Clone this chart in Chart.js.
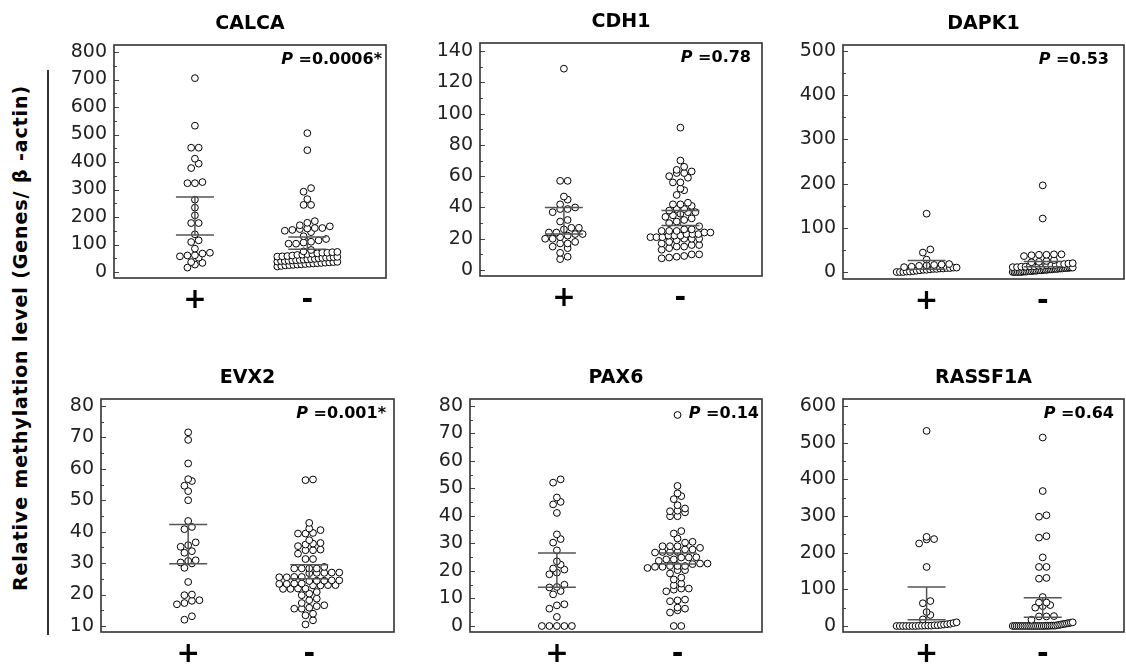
<!DOCTYPE html>
<html><head><meta charset="utf-8">
<script src="https://cdn.jsdelivr.net/npm/chart.js@4"></script>
<style>
html,body{margin:0;padding:0;background:#fff;}
body{width:1126px;height:666px;position:relative;overflow:hidden;font-family:"DejaVu Sans",sans-serif;}
.panel{position:absolute;}
#ytitle{position:absolute;left:20px;top:338px;transform:translate(-50%,-50%) rotate(-90deg);white-space:nowrap;font:bold 19px "DejaVu Sans";letter-spacing:0.9px;color:#000;}
#yline{position:absolute;left:47px;top:70px;width:1.5px;height:565px;background:#333;}
</style></head><body>
<div id="ytitle">Relative methylation level (Genes/ β -actin)</div>
<div id="yline"></div>
<script>
// ---------- data ----------
const categories = ['+', '-'];
const genes = ['CALCA', 'CDH1', 'DAPK1', 'EVX2', 'PAX6', 'RASSF1A'];
const pValues = ['0.0006*', '0.78', '0.53', '0.001*', '0.14', '0.64'];

const calcaTicks = [0, 100, 200, 300, 400, 500, 600, 700, 800];
const cdh1Ticks = [0, 20, 40, 60, 80, 100, 120, 140];
const dapk1Ticks = [0, 100, 200, 300, 400, 500];
const evx2Ticks = [10, 20, 30, 40, 50, 60, 70, 80];
const pax6Ticks = [0, 10, 20, 30, 40, 50, 60, 70, 80];
const rassf1aTicks = [0, 100, 200, 300, 400, 500, 600];

const calcaPos = [705, 532, 452, 452, 412, 394, 378, 323, 323, 327, 263, 234, 206, 178, 178, 137, 115, 109, 85, 70, 67, 61, 60, 57, 52, 36, 33, 27, 16];
const calcaNeg = [505, 443, 305, 292, 265, 244, 244, 185, 179, 170, 166, 160, 160, 158, 156, 153, 150, 145, 130, 120, 115, 110, 107, 103, 103, 80, 75, 73, 72, 70, 70, 68, 66, 65, 63, 62, 60, 58, 57, 56, 55, 54, 53, 52, 51, 50, 48, 47, 46, 45, 44, 43, 42, 41, 40, 40, 38, 37, 36, 35, 34, 33, 32, 31, 30, 29, 28, 27, 26, 25, 24, 22, 20];
const cdh1Pos = [128.7, 57, 57, 47, 45, 42, 40, 39, 39, 37, 32, 31, 27, 27, 26, 24, 24, 23, 23, 22, 21, 20, 20, 18, 17, 17, 15, 14, 11, 8.5, 7];
const cdh1Neg = [91, 70, 66, 64, 63, 62, 62, 60, 59, 56, 56, 52, 51, 48, 43, 42, 42, 41, 39, 39, 38, 37, 37, 36, 35, 34, 33, 32, 31, 30, 28, 26, 26, 25, 25, 25, 24, 24, 23, 23, 23, 22, 22, 22, 21, 21, 21, 20, 20, 20, 19, 18, 17, 16, 16, 15, 15, 14, 13, 10, 10, 9, 8.5, 8, 7.5];
const dapk1Pos = [132, 51, 44, 28, 18, 17, 16, 15, 14, 12, 11, 10, 10, 9, 9, 8, 8, 7, 7, 6, 5, 5, 4, 3, 2, 1, 1, 0, 0, 0];
const dapk1Neg = [196, 121, 40, 40, 39, 39, 38, 36, 27, 25, 23, 22, 20, 19, 18, 17, 16, 15, 15, 14, 14, 13, 13, 12, 12, 11, 11, 10, 10, 10, 9, 9, 9, 8, 8, 8, 7, 7, 7, 6, 6, 6, 5, 5, 5, 4, 4, 4, 3, 3, 3, 2, 2, 2, 1, 1, 1, 0, 0, 0, 0, 0, 0];
const evx2Pos = [71.6, 69.2, 61.7, 56.7, 56.1, 54.6, 52.9, 50, 43.4, 41.5, 40.8, 36.6, 35.7, 35.2, 33.8, 33.3, 30.9, 30.7, 30.2, 29.9, 28.5, 24, 20, 19.8, 18.2, 18, 17.3, 16.9, 13.1, 12];
const evx2Neg = [56.6, 56.4, 42.8, 41, 40.5, 39.6, 39.4, 39.4, 37.3, 36.4, 36.2, 35.9, 35.4, 34.3, 34.1, 34.1, 33, 31.3, 31.3, 28.8, 28.3, 28.3, 28.3, 28.3, 27, 27, 26.9, 26.9, 26.8, 25.6, 25.6, 25.5, 25.5, 24.5, 24.5, 24.4, 24.4, 24.3, 23.5, 23.5, 23.4, 23.4, 23, 23, 22.9, 22.9, 21.9, 21.9, 21.8, 21.8, 20.8, 20.3, 19.8, 18.7, 18.2, 17.3, 16.6, 16.3, 15.8, 15.5, 15.5, 13.9, 13.4, 11.8, 10.5];
const pax6Pos = [53.3, 52.1, 46.7, 45.1, 44.2, 41.1, 33.3, 31.6, 30.3, 27.5, 23.5, 22.3, 20.9, 20.5, 19.4, 18.8, 15, 14.2, 14, 12.7, 11.5, 7.9, 7.5, 6.3, 3.3, 0, 0, 0, 0, 0];
const pax6Neg = [76.7, 50.9, 48.2, 47.2, 46.1, 43.9, 42.7, 41.9, 41.7, 41.3, 39.9, 39.9, 34.5, 33.6, 31.8, 30.6, 30.3, 29, 29, 29, 28.4, 27.8, 27.8, 26.9, 26.9, 26.9, 26.7, 25, 24.9, 24.9, 24.2, 24.2, 23.7, 22.7, 22.7, 22.5, 21.8, 21.8, 21.8, 21.5, 21.5, 21.1, 20.3, 20.3, 19.1, 17.6, 16.9, 15.4, 14.8, 13.6, 13.6, 13.2, 12.6, 9.6, 9.3, 9, 6.7, 6.3, 5.7, 4.9, 0, 0];
const rassf1aPos = [532, 243, 237, 236, 225, 161, 68, 62, 38, 30, 18, 10, 8, 6, 5, 4, 3, 2, 2, 1, 1, 1, 0.5, 0.5, 0, 0, 0, 0, 0, 0, 0];
const rassf1aNeg = [514, 368, 302, 298, 245, 241, 187, 161, 161, 131, 129, 79, 64, 64, 57, 54, 50, 27, 26, 26, 17, 10, 9, 8, 7, 6, 5, 4, 3, 2, 1, 1, 1, 0.5, 0.5, 0.5, 0, 0, 0, 0, 0, 0, 0, 0, 0, 0, 0, 0, 0, 0, 0, 0, 0];

// error bar (upper, lower) per group
const calcaBarPos = [273, 135], calcaBarNeg = [127, 83];
const cdh1BarPos = [40, 23], cdh1BarNeg = [38, 28.5];
const dapk1BarPos = [26, 6], dapk1BarNeg = [24, 12];
const evx2BarPos = [42.3, 29.8], evx2BarNeg = [29.5, 25];
const pax6BarPos = [26.5, 14.1], pax6BarNeg = [26.5, 22.5];
const rassf1aBarPos = [106.6, 17], rassf1aBarNeg = [77, 24];

const groupValues = [[calcaPos, calcaNeg], [cdh1Pos, cdh1Neg], [dapk1Pos, dapk1Neg], [evx2Pos, evx2Neg], [pax6Pos, pax6Neg], [rassf1aPos, rassf1aNeg]];
const groupBars = [[calcaBarPos, calcaBarNeg], [cdh1BarPos, cdh1BarNeg], [dapk1BarPos, dapk1BarNeg], [evx2BarPos, evx2BarNeg], [pax6BarPos, pax6BarNeg], [rassf1aBarPos, rassf1aBarNeg]];
const groupTicks = [calcaTicks, cdh1Ticks, dapk1Ticks, evx2Ticks, pax6Ticks, rassf1aTicks];

// ---------- layout / style ----------
const layout = [
  {left: 114, right: 387, top: 45, bottom: 278, yMin: -21.8, yMax: 825.5, pInset: 4},
  {left: 480, right: 763, top: 43, bottom: 276, yMin: -3.8, yMax: 145.1, pInset: 11},
  {left: 843, right: 1125, top: 45, bottom: 279, yMin: -15.8, yMax: 513.6, pInset: 15},
  {left: 101, right: 395, top: 399, bottom: 632, yMin: 8.09, yMax: 82.2, pInset: 8},
  {left: 470, right: 763, top: 399, bottom: 632, yMin: -2.18, yMax: 82.5, pInset: 3},
  {left: 843, right: 1125, top: 399, bottom: 632, yMin: -16.4, yMax: 619, pInset: 10}
];
const PADL = 60, PADB = 40, PADT = 45, PADR = 4;
const DOT_SPACING = 7.5, ROW_H = 4.8, MAX_W = 60, BAR_HALF = 19;

function makePlugin(cfg) {
  return {
    id: 'panelDeco',
    afterDatasetsDraw(chart) {
      const ctx = chart.ctx, ys = chart.scales.y, xs = chart.scales.x;
      ctx.save();
      ctx.strokeStyle = '#555'; ctx.lineWidth = 1.5;
      cfg.bars.forEach((b, k) => {
        const cx = xs.getPixelForValue(k + 1);
        const yt = ys.getPixelForValue(b[0]), yb = ys.getPixelForValue(b[1]);
        ctx.beginPath();
        ctx.moveTo(cx - BAR_HALF, yt); ctx.lineTo(cx + BAR_HALF, yt);
        ctx.moveTo(cx - BAR_HALF, yb); ctx.lineTo(cx + BAR_HALF, yb);
        ctx.moveTo(cx, yt); ctx.lineTo(cx, yb);
        ctx.stroke();
      });
      ctx.restore();
    },
    afterDraw(chart) {
      const ctx = chart.ctx, a = chart.chartArea, ys = chart.scales.y;
      ctx.save();
      ctx.strokeStyle = '#444'; ctx.lineWidth = 1;
      const t = cfg.ticks;
      ctx.beginPath();
      for (let i = 0; i < t.length; i++) {
        const y = Math.round(ys.getPixelForValue(t[i])) + 0.5;
        ctx.moveTo(a.left, y); ctx.lineTo(a.left + 5, y);
        if (i < t.length - 1) {
          const ym = Math.round(ys.getPixelForValue((t[i] + t[i + 1]) / 2)) + 0.5;
          ctx.moveTo(a.left, ym); ctx.lineTo(a.left + 3, ym);
        }
      }
      ctx.stroke();
      ctx.strokeStyle = '#333'; ctx.lineWidth = 1.6;
      ctx.strokeRect(a.left, a.top, a.right - a.left, a.bottom - a.top);
      ctx.fillStyle = '#000';
      ctx.font = 'bold 19px "DejaVu Sans"';
      ctx.textAlign = 'center'; ctx.textBaseline = 'middle';
      ctx.fillText(cfg.title, (a.left + a.right) / 2, a.top - 21);
      ctx.textBaseline = 'alphabetic'; ctx.textAlign = 'left';
      const f1 = 'italic bold 16px "DejaVu Sans"', f2 = 'bold 16px "DejaVu Sans"';
      const rest = ' =' + cfg.p;
      ctx.font = f1; const w1 = ctx.measureText('P').width;
      ctx.font = f2; const w2 = ctx.measureText(rest).width;
      const x0 = a.right - cfg.pInset - w1 - w2, yb = a.top + 19;
      ctx.font = f1; ctx.fillText('P', x0, yb);
      ctx.font = f2; ctx.fillText(rest, x0 + w1, yb);
      ctx.restore();
    }
  };
}

function swarm(chart, values) {
  const xs = chart.scales.x, ys = chart.scales.y;
  chart.data.datasets.forEach((ds, k) => {
    const vals = values[k];
    const cx = xs.getPixelForValue(k + 1);
    const sorted = vals.slice().sort((p, q) => p - q);
    const pts = [];
    let row = [], start = null;
    const flush = () => {
      const n = row.length;
      const s = n > 1 ? Math.min(DOT_SPACING, MAX_W / (n - 1)) : 0;
      row.forEach((v, i) => {
        const px = cx + (i - (n - 1) / 2) * s;
        pts.push({x: xs.getValueForPixel(px), y: v});
      });
      row = [];
    };
    sorted.forEach(v => {
      const p = ys.getPixelForValue(v);
      if (start === null || start - p > ROW_H) { if (row.length) flush(); start = p; }
      row.push(v);
    });
    if (row.length) flush();
    ds.data = pts;
  });
  chart.update('none');
}

genes.forEach((g, idx) => {
  const L = layout[idx];
  const w = L.right - L.left + PADL + PADR, h = L.bottom - L.top + PADT + PADB;
  const div = document.createElement('div');
  div.className = 'panel';
  div.style.left = (L.left - PADL) + 'px';
  div.style.top = (L.top - PADT) + 'px';
  div.style.width = w + 'px'; div.style.height = h + 'px';
  const cv = document.createElement('canvas');
  cv.width = w; cv.height = h;
  cv.style.width = w + 'px'; cv.style.height = h + 'px';
  div.appendChild(cv); document.body.appendChild(div);
  const ticks = groupTicks[idx];
  const cfg = {title: g, p: pValues[idx], pInset: L.pInset, bars: groupBars[idx], ticks: ticks};
  const dsStyle = {pointRadius: 3.4, pointBorderWidth: 1, pointBorderColor: '#000', pointBackgroundColor: '#fff', showLine: false};
  const chart = new Chart(cv, {
    type: 'scatter',
    data: {datasets: groupValues[idx].map((vals, k) => Object.assign({label: categories[k], data: vals.map(v => ({x: k + 1, y: v}))}, dsStyle))},
    options: {
      responsive: false, animation: false, devicePixelRatio: 1,
      layout: {padding: {top: PADT, right: PADR, left: 0, bottom: 0}},
      plugins: {legend: {display: false}, tooltip: {enabled: false}, title: {display: false}},
      scales: {
        x: {
          type: 'linear', min: 0.28, max: 2.7,
          afterBuildTicks: s => { s.ticks = [{value: 1}, {value: 2}]; },
          afterFit: s => { s.height = PADB; },
          ticks: {callback: v => categories[v - 1], font: {family: 'DejaVu Sans', size: 28, weight: 'bold'}, color: '#000', padding: 6, maxRotation: 0, autoSkip: false},
          grid: {display: false, drawTicks: false}, border: {display: false}
        },
        y: {
          type: 'linear', min: L.yMin, max: L.yMax,
          afterBuildTicks: s => { s.ticks = ticks.map(v => ({value: v})); },
          afterFit: s => { s.width = PADL; },
          ticks: {font: {family: 'DejaVu Sans', size: 19}, color: '#222', padding: 7, autoSkip: false},
          grid: {display: false, drawTicks: false}, border: {display: false}
        }
      }
    },
    plugins: [makePlugin(cfg)]
  });
  swarm(chart, groupValues[idx]);
});
</script>
</body></html>
